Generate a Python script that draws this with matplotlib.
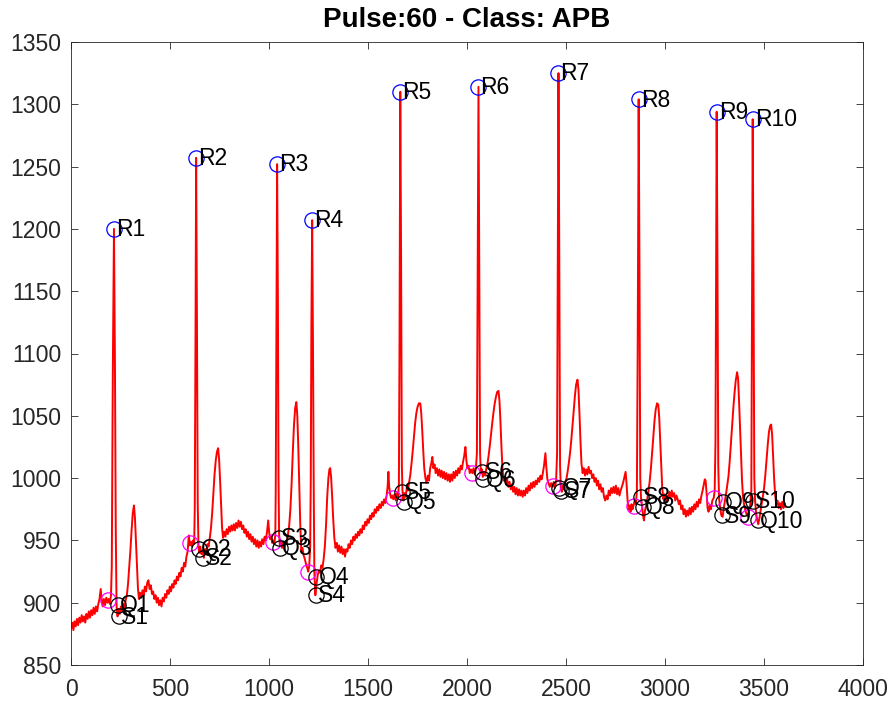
"""
Trazo ECG de 10 s con los puntos P, Q, R, S detectados en cada latido
"""

import matplotlib
matplotlib.use('Agg')  # Backend sin GUI
import matplotlib.pyplot as plt

plt.rcParams['font.family'] = ['Liberation Sans', 'DejaVu Sans']

TITULO = 'Pulse:60 - Class: APB'

# Señal: (muestra, amplitud)
ecg_trace = [
    (0, 880), (6, 884), (12, 878), (18, 885), (24, 881), (30, 887), (36, 882), (42, 888), (48, 884),
    (54, 890), (60, 885), (66, 889), (72, 884), (78, 891), (84, 887), (90, 893), (96, 888), (102, 894),
    (108, 890), (114, 896), (120, 891), (126, 897), (132, 893), (138, 899), (144, 903), (150, 911),
    (155, 902), (160, 897), (166, 903), (172, 898), (178, 904), (184, 900), (190, 903), (196, 899),
    (202, 906),
    # latido 1
    (206, 930), (211, 1080), (217, 1200), (222, 1090), (226, 960), (230, 898), (235, 889), (240, 895),
    (246, 891), (252, 897), (258, 893), (264, 899), (270, 896), (276, 902),
    (282, 906), (288, 915), (294, 928), (300, 942), (306, 958), (312, 972), (318, 978), (323, 968),
    (328, 950), (333, 930), (338, 912), (343, 903),
    (349, 908), (355, 904), (361, 910), (367, 906), (373, 913), (379, 909), (385, 916), (391, 918),
    (397, 911), (403, 914), (409, 907), (415, 909), (421, 903), (427, 906), (433, 900), (439, 904),
    (445, 898), (451, 902), (457, 897), (463, 904), (469, 901), (475, 907), (481, 904), (487, 910),
    (493, 907), (499, 913), (505, 909), (511, 915), (517, 912), (523, 918), (529, 915), (535, 921),
    (541, 918), (547, 924), (553, 921), (559, 928), (565, 925), (571, 932), (577, 929), (583, 937),
    (589, 941), (595, 954), (600, 946), (605, 949), (611, 945), (617, 950), (622, 947),
    # latido 2
    (625, 975), (629, 1120), (632, 1257), (636, 1130), (640, 980), (644, 944), (648, 940), (653, 945),
    (659, 939), (665, 942), (671, 936), (677, 943), (683, 940), (689, 947), (695, 945), (701, 952),
    (707, 960), (713, 972), (719, 988), (725, 1003), (731, 1014), (737, 1021), (743, 1024), (748, 1015),
    (753, 998), (758, 978), (763, 960), (768, 952),
    (774, 957), (780, 953), (786, 959), (792, 955), (798, 961), (804, 957), (810, 962), (816, 958),
    (822, 963), (828, 958), (834, 964), (840, 960), (846, 966), (852, 961), (858, 965), (864, 959),
    (870, 962), (876, 956), (882, 959), (888, 953), (894, 957), (900, 951), (906, 955), (912, 949),
    (918, 953), (924, 947), (930, 951), (936, 945), (942, 950), (948, 944), (954, 949), (960, 945),
    (966, 951), (972, 947), (978, 953), (984, 950), (990, 957), (996, 966), (1001, 956), (1006, 951),
    (1011, 954), (1016, 948), (1021, 950), (1027, 947), (1032, 955),
    # latido 3
    (1034, 990), (1038, 1130), (1041, 1252), (1045, 1140), (1048, 1000), (1051, 955), (1055, 946),
    (1060, 950), (1066, 944), (1072, 948), (1078, 943), (1084, 949), (1090, 947), (1096, 955),
    (1102, 962), (1108, 975), (1114, 995), (1120, 1020), (1126, 1042), (1132, 1056), (1138, 1061),
    (1143, 1050), (1148, 1025), (1153, 995), (1158, 962), (1163, 942), (1169, 944), (1175, 938),
    (1181, 935), (1187, 931), (1193, 928), (1198, 925), (1203, 929), (1208, 945),
    # latido 4
    (1211, 1000), (1214, 1120), (1218, 1207), (1222, 1110), (1226, 990), (1229, 925), (1234, 906),
    (1240, 915), (1246, 922), (1252, 926), (1258, 924), (1264, 930), (1270, 928), (1276, 935),
    (1282, 945), (1288, 962), (1294, 985), (1300, 1000), (1305, 1007), (1309, 1008), (1314, 1000),
    (1319, 985), (1324, 968), (1330, 952), (1336, 944),
    (1342, 948), (1348, 941), (1354, 946), (1360, 940), (1366, 945), (1372, 939), (1378, 943),
    (1384, 937), (1390, 943), (1396, 941), (1402, 947), (1408, 944), (1414, 950), (1420, 947),
    (1426, 953), (1432, 950), (1438, 955), (1444, 952), (1450, 957), (1456, 954), (1462, 959),
    (1468, 956), (1474, 962), (1480, 959), (1486, 965), (1492, 962), (1498, 967), (1504, 964),
    (1510, 970), (1516, 967), (1522, 972), (1528, 969), (1534, 975), (1540, 972), (1546, 977),
    (1552, 974), (1558, 979), (1564, 976), (1570, 981), (1576, 978), (1582, 983), (1588, 980),
    (1594, 986), (1599, 993), (1603, 1005), (1607, 993), (1612, 987), (1617, 984), (1622, 986),
    (1628, 983), (1634, 987), (1640, 982), (1646, 988), (1652, 985), (1656, 995),
    # latido 5
    (1659, 1100), (1663, 1310), (1667, 1180), (1671, 1010), (1674, 990), (1679, 982), (1684, 988),
    (1690, 985), (1696, 992), (1702, 990), (1708, 997), (1714, 1003), (1720, 1012), (1726, 1022),
    (1732, 1033), (1738, 1044), (1744, 1052), (1750, 1057), (1757, 1060), (1764, 1060), (1769, 1052),
    (1774, 1038), (1779, 1022), (1784, 1008), (1790, 1000), (1796, 996), (1802, 1002), (1808, 998),
    (1814, 1008), (1820, 1012), (1825, 1017), (1830, 1008), (1836, 1011), (1842, 1004), (1848, 1008),
    (1854, 1002), (1860, 1007), (1866, 1001), (1872, 1006), (1878, 1000), (1884, 1005), (1890, 999),
    (1896, 1004), (1902, 998), (1908, 1003), (1914, 997), (1920, 1003), (1926, 998), (1932, 1005),
    (1938, 1000), (1944, 1006), (1950, 1002), (1956, 1008), (1962, 1004), (1968, 1010), (1974, 1007),
    (1980, 1013), (1986, 1018), (1992, 1025), (1997, 1014), (2002, 1008), (2008, 1010), (2014, 1004),
    (2020, 1007), (2027, 1004), (2033, 1008), (2039, 1003), (2045, 1008), (2050, 1020),
    # latido 6
    (2054, 1160), (2058, 1314), (2062, 1170), (2066, 1020), (2070, 1004), (2075, 1007), (2080, 1001),
    (2086, 1005), (2092, 1002), (2098, 1008), (2104, 1012), (2110, 1019), (2116, 1027), (2122, 1036),
    (2128, 1045), (2134, 1053), (2140, 1060), (2146, 1065), (2152, 1069), (2159, 1070), (2164, 1062),
    (2169, 1045), (2174, 1025), (2179, 1008), (2185, 998), (2191, 1001), (2197, 995), (2203, 999),
    (2209, 993), (2215, 997), (2221, 991), (2227, 995), (2233, 989), (2239, 993), (2245, 987),
    (2251, 992), (2257, 986), (2263, 991), (2269, 986), (2275, 990), (2281, 985), (2287, 990),
    (2293, 986), (2299, 992), (2305, 988), (2311, 994), (2317, 990), (2323, 996), (2329, 992),
    (2335, 997), (2341, 993), (2347, 998), (2353, 995), (2359, 1000), (2365, 997), (2371, 1002),
    (2377, 999), (2383, 1004), (2389, 1010), (2396, 1020), (2401, 1008), (2406, 999), (2412, 996),
    (2418, 993), (2425, 996), (2432, 993), (2438, 997), (2444, 992), (2450, 998), (2455, 1020),
    # latido 7
    (2458, 1160), (2462, 1325), (2466, 1180), (2470, 1010), (2474, 991), (2479, 989), (2485, 994),
    (2491, 991), (2497, 997), (2503, 1000), (2509, 1006), (2515, 1013), (2521, 1021), (2527, 1031),
    (2533, 1042), (2539, 1054), (2545, 1066), (2551, 1075), (2558, 1079), (2563, 1071), (2568, 1052),
    (2573, 1030), (2578, 1012), (2584, 1004), (2590, 1008), (2596, 1002), (2602, 1007), (2608, 1003),
    (2614, 1009), (2620, 1004), (2626, 1006), (2632, 1000), (2638, 1003), (2644, 997), (2650, 1000),
    (2656, 994), (2662, 998), (2668, 991), (2674, 995), (2680, 989), (2686, 992), (2692, 985),
    (2698, 982), (2704, 986), (2710, 983), (2716, 990), (2722, 986), (2728, 992), (2734, 988),
    (2740, 993), (2746, 988), (2752, 994), (2758, 987), (2764, 992), (2770, 986), (2776, 990),
    (2782, 993), (2788, 996), (2794, 1000), (2801, 1005), (2806, 995), (2811, 982), (2816, 975),
    (2821, 978), (2826, 973), (2831, 979), (2836, 975), (2841, 978), (2847, 982), (2853, 979),
    (2858, 990),
    # latido 8
    (2862, 1100), (2867, 1304), (2871, 1170), (2875, 1000), (2879, 984), (2884, 978), (2889, 970),
    (2894, 966), (2899, 974), (2905, 978), (2911, 984), (2917, 990), (2923, 998), (2929, 1008),
    (2935, 1020), (2941, 1033), (2947, 1046), (2953, 1055), (2960, 1060), (2966, 1059), (2971, 1048),
    (2976, 1030), (2981, 1010), (2986, 992), (2992, 983), (2998, 987), (3004, 981), (3010, 986),
    (3016, 982), (3022, 989), (3028, 984), (3034, 990), (3040, 985), (3046, 988), (3052, 982),
    (3058, 986), (3064, 983), (3070, 979), (3076, 982), (3082, 975), (3088, 978), (3094, 971),
    (3100, 975), (3106, 969), (3112, 974), (3118, 970), (3124, 976), (3130, 971), (3136, 977),
    (3142, 973), (3148, 979), (3154, 975), (3160, 981), (3166, 977), (3172, 983), (3178, 980),
    (3184, 986), (3190, 990), (3196, 995), (3201, 999), (3205, 998), (3210, 988), (3215, 976),
    (3220, 973), (3226, 978), (3232, 975), (3239, 982), (3246, 984), (3251, 990), (3255, 1030),
    # latido 9
    (3258, 1170), (3261, 1294), (3265, 1170), (3269, 1010), (3273, 984), (3279, 975), (3285, 970),
    (3291, 969), (3297, 976), (3303, 982), (3309, 988), (3315, 995), (3321, 1002), (3327, 1014),
    (3333, 1028), (3339, 1042), (3345, 1056), (3351, 1068), (3357, 1078), (3364, 1085), (3369, 1080),
    (3374, 1062), (3379, 1040), (3384, 1018), (3389, 998), (3394, 985), (3400, 978), (3406, 974),
    (3412, 971), (3418, 969), (3424, 973), (3430, 978), (3436, 990),
    # latido 10
    (3439, 1120), (3443, 1288), (3447, 1160), (3451, 1000), (3455, 982), (3460, 972), (3466, 966),
    (3471, 963), (3477, 968), (3483, 974), (3489, 980), (3495, 986), (3501, 993), (3507, 1003),
    (3513, 1015), (3519, 1027), (3525, 1037), (3531, 1042), (3536, 1043), (3541, 1035), (3546, 1018),
    (3551, 1000), (3556, 987), (3562, 979), (3568, 982), (3574, 976), (3580, 980), (3586, 975),
    (3592, 981), (3598, 976), (3604, 980), (3609, 977),
]

# Picos R
r_x = [217, 632, 1041, 1218, 1663, 2058, 2462, 2867, 3261, 3443]
r_y = [1200, 1257, 1252, 1207, 1310, 1314, 1325, 1304, 1294, 1288]

# Puntos Q
q_x = [238, 647, 1057, 1239, 1683, 2083, 2467, 2887, 3291, 3468]
q_y = [898, 943, 944, 921, 981, 999, 992, 977, 981, 966]

# Puntos S
s_x = [243, 667, 1052, 1239, 1673, 2078, 2477, 2877, 3286, 3443]
s_y = [889, 936, 952, 906, 989, 1005, 990, 985, 970, 982]

# Inicio del complejo (sin etiqueta)
p_x = [187, 602, 1021, 1198, 1628, 2027, 2432, 2841, 3246, 3418]
p_y = [902, 948, 949, 925, 984, 1004, 994, 978, 984, 969]

x_ticks = [0, 500, 1000, 1500, 2000, 2500, 3000, 3500, 4000]
y_ticks = [850, 900, 950, 1000, 1050, 1100, 1150, 1200, 1250, 1300, 1350]

text_color = '#262626'

fig = plt.figure(figsize=(8.96, 7.08), dpi=100, facecolor='white')
ax = fig.add_axes([71 / 896, 43 / 708, 792 / 896, 623 / 708])

t = [p[0] for p in ecg_trace]
v = [p[1] for p in ecg_trace]
ax.plot(t, v, color='#ff0000', linewidth=1.4, zorder=2)

ax.plot(p_x, p_y, 'o', mfc='none', mec='#ff00ff', ms=11, mew=0.9, zorder=3)
ax.plot(r_x, r_y, 'o', mfc='none', mec='#0000ff', ms=11, mew=0.9, zorder=3)
ax.plot(q_x, q_y, 'o', mfc='none', mec='black', ms=11, mew=0.9, zorder=3)
ax.plot(s_x, s_y, 'o', mfc='none', mec='black', ms=11, mew=0.9, zorder=3)

# Etiquetas de cada punto
for nombre, xs, ys in (('R', r_x, r_y), ('Q', q_x, q_y), ('S', s_x, s_y)):
    for i, (x, y) in enumerate(zip(xs, ys)):
        ax.annotate(f'{nombre}{i + 1}', (x, y), xytext=(1.5, -0.5), textcoords='offset points',
                    ha='left', va='center', fontsize=16.5, color='black', zorder=4)

ax.set_xlim(0, 4000)
ax.set_ylim(850, 1350)
ax.set_xticks(x_ticks)
ax.set_yticks(y_ticks)
ax.tick_params(direction='in', length=5, width=0.6, colors=text_color, labelsize=16.5,
               top=True, right=True)
ax.tick_params(axis='x', pad=9)
ax.tick_params(axis='y', pad=7)
for spine in ax.spines.values():
    spine.set_color(text_color)
    spine.set_linewidth(0.6)

ax.set_title(TITULO, fontsize=20, fontweight='bold', color='black', pad=11)

fig.savefig('out.png', dpi=100, facecolor='white')
